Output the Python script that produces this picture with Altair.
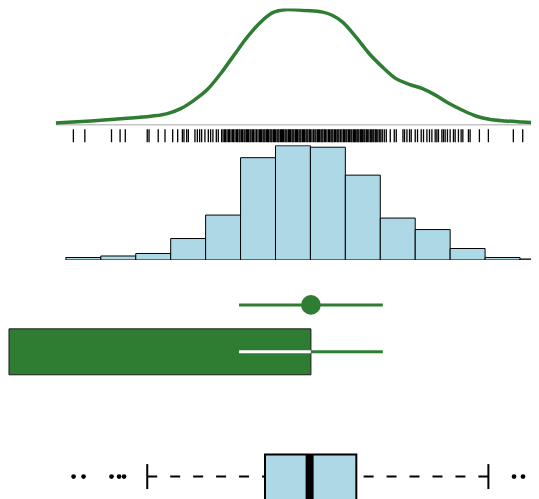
import altair as alt
import pandas as pd

GREEN = "#2e7d32"
BLUE = "#add8e6"

# ---- data (x in data units) ----
dens_x = [4.7, 8.2, 11.53, 14.2, 15.87, 17.2, 18.53, 19.87, 21.2, 22.53, 23.87, 25.2,
          26.53, 27.87, 29.77, 31.43, 32.43, 33.43, 34.77, 36.1, 37.43, 38.77, 40.1,
          41.43, 42.77, 44.1, 45.43, 46.77, 48.1, 49.77, 51.43, 53.1]
dens_y = [0.016, 0.033, 0.054, 0.074, 0.097, 0.140, 0.212, 0.305, 0.443, 0.602, 0.760,
          0.890, 0.977, 1.0, 0.991, 0.977, 0.948, 0.890, 0.760, 0.616, 0.500, 0.400,
          0.351, 0.313, 0.255, 0.184, 0.126, 0.076, 0.048, 0.033, 0.024, 0.016]

rug = [6.45, 7.6, 10.27, 11.13, 11.65, 13.85, 14.03, 14.95, 15.63, 16.4, 16.9, 17.37,
       17.53, 17.8, 17.97, 18.63, 18.87, 19.1, 19.3, 19.63, 19.97, 20.2, 20.43, 20.77,
       20.97,
       21.3, 21.45, 21.6, 21.7, 21.85, 22.0, 22.1, 22.25, 22.4, 22.5, 22.65, 22.8, 22.9,
       23.05, 23.15, 23.3, 23.4, 23.55, 23.65, 23.8, 23.9, 24.0, 24.15, 24.25, 24.4,
       24.5, 24.65, 24.8, 24.95, 25.1, 25.2, 25.3, 25.45, 25.55, 25.65, 25.8, 25.9, 26.0,
       26.15, 26.25, 26.35, 26.5, 26.6, 26.7, 26.85, 26.95, 27.05, 27.2, 27.3, 27.4,
       27.5, 27.65, 27.75, 27.85, 28.0, 28.1, 28.2, 28.35, 28.45, 28.55, 28.7, 28.8,
       28.9, 29.05, 29.15, 29.25, 29.4, 29.5, 29.6, 29.75, 29.85, 29.95, 30.1, 30.2,
       30.35, 30.5, 30.65, 30.75, 30.9, 31.0, 31.1, 31.25, 31.35, 31.45, 31.6, 31.7,
       31.85, 32.0, 32.1, 32.25, 32.35, 32.45, 32.6, 32.7, 32.85, 32.95, 33.05, 33.2,
       33.35, 33.5, 33.6, 33.75, 33.85, 34.0, 34.1, 34.25, 34.35, 34.5, 34.6, 34.7,
       34.85, 34.95, 35.05, 35.2, 35.3, 35.4, 35.55, 35.65, 35.8, 35.9, 36.05, 36.2,
       36.3, 36.45, 36.55, 36.7, 36.8, 36.95, 37.1, 37.25, 37.4,
       37.6, 37.8, 38.2, 38.6, 38.8, 39.47, 39.63, 39.87, 40.13, 40.3, 40.7, 40.93,
       41.3, 41.53, 41.87, 42.13, 42.37, 42.7, 42.87, 43.03, 43.37, 43.53, 43.7, 43.93,
       44.2, 44.53, 44.7, 45.03, 45.3, 45.47, 46.03, 46.2, 47.13, 48.03, 50.53, 51.47]

bin_edges = [5.7, 9.2, 12.7, 16.2, 19.7, 23.2, 26.7, 30.2, 33.7, 37.2, 40.7, 44.2,
             47.7, 51.2, 54.7]
bin_counts = [5, 8, 13, 43, 90, 205, 229, 226, 170, 84, 61, 23, 5, 2]

mean_val = 30.25
err_lo = 23.05
err_hi = 37.45

box_whisk_lo = 13.85
box_q1 = 25.65
box_median = 30.12
box_q3 = 34.8
box_whisk_hi = 48.03
outliers = [6.47, 7.47, 10.27, 11.03, 11.53, 50.6, 51.5]

# ---- tables ----
W = 523
XS = alt.Scale(domain=[0, 52.3], nice=False, zero=False)

df_dens = pd.DataFrame({"x": dens_x, "d": dens_y})
df_base = pd.DataFrame({"x": [min(dens_x)], "x2": [max(dens_x)], "d": [0]})
df_rug = pd.DataFrame({"x": rug})
df_hist = pd.DataFrame({"start": bin_edges[:-1], "end": bin_edges[1:], "count": bin_counts})
df_mean = pd.DataFrame({"mean": [mean_val], "lo": [err_lo], "hi": [err_hi], "zero": [0]})
df_box = pd.DataFrame({"wlo": [box_whisk_lo], "q1": [box_q1], "med": [box_median],
                       "q3": [box_q3], "whi": [box_whisk_hi]})
df_out = pd.DataFrame({"x": outliers})

# ---- panel A: density ----
ys_d = alt.Scale(domain=[-0.013, 1.009], nice=False, zero=False)
base = alt.Chart(df_base).mark_rule(color="#c4c4c4", strokeWidth=1.5, clip=True).encode(
    x=alt.X("x:Q", scale=XS, axis=None), x2="x2:Q",
    y=alt.Y("d:Q", scale=ys_d, axis=None))
dens = alt.Chart(df_dens).mark_line(color=GREEN, strokeWidth=3.5, interpolate="monotone",
                                    clip=True).encode(
    x=alt.X("x:Q", scale=XS, axis=None),
    y=alt.Y("d:Q", scale=ys_d, axis=None))
panelA = alt.layer(base, dens).properties(width=W, height=118)

# ---- panel B: rug ----
panelB = alt.Chart(df_rug).mark_tick(color="black", thickness=1.3, size=13, opacity=1).encode(
    x=alt.X("x:Q", scale=XS, axis=None),
    y=alt.Y(datum=0, scale=alt.Scale(domain=[-1, 1]), axis=None)
).properties(width=W, height=19)

# ---- panel C: histogram ----
panelC = alt.Chart(df_hist).mark_bar(fill=BLUE, stroke="black", strokeWidth=1, clip=True).encode(
    x=alt.X("start:Q", scale=XS, axis=None), x2="end:Q",
    y=alt.Y("count:Q", scale=alt.Scale(domain=[0, 230], nice=False), axis=None),
    y2=alt.Y2(datum=0)
).properties(width=W, height=115)

# ---- panel D: mean point with error bar ----
ys_D = alt.Scale(domain=[-23, 45], nice=False, zero=False)
d_rule = alt.Chart(df_mean).mark_rule(color=GREEN, strokeWidth=3).encode(
    x=alt.X("lo:Q", scale=XS, axis=None), x2="hi:Q",
    y=alt.Y(datum=0, scale=ys_D, axis=None))
d_pt = alt.Chart(df_mean).mark_point(filled=True, color=GREEN, size=390, opacity=1).encode(
    x=alt.X("mean:Q", scale=XS, axis=None),
    y=alt.Y(datum=0, scale=ys_D, axis=None))
panelD = alt.layer(d_rule, d_pt).properties(width=W, height=68)

# ---- panel E: bar with error bar ----
ys_E = alt.Scale(domain=[-1, 1], nice=False, zero=False)
e_bar = alt.Chart(df_mean).mark_bar(color=GREEN, stroke="#1a1a1a", strokeWidth=1).encode(
    x=alt.X("zero:Q", scale=XS, axis=None), x2="mean:Q",
    y=alt.Y(datum=-1, scale=ys_E, axis=None), y2=alt.Y2(datum=1))
e_w = alt.Chart(df_mean).mark_rule(color="white", strokeWidth=3).encode(
    x=alt.X("lo:Q", scale=XS, axis=None), x2="mean:Q",
    y=alt.Y(datum=0, scale=ys_E, axis=None))
e_g = alt.Chart(df_mean).mark_rule(color=GREEN, strokeWidth=3).encode(
    x=alt.X("mean:Q", scale=XS, axis=None), x2="hi:Q",
    y=alt.Y(datum=0, scale=ys_E, axis=None))
panelE = alt.layer(e_bar, e_w, e_g).properties(width=W, height=46)

# ---- panel F: box plot ----
ys_F = alt.Scale(domain=[-24, 101], nice=False, zero=False)
f_wl = alt.Chart(df_box).mark_rule(color="black", strokeWidth=2, strokeDash=[10, 13]).encode(
    x=alt.X("wlo:Q", scale=XS, axis=None), x2="q1:Q",
    y=alt.Y(datum=0, scale=ys_F, axis=None))
f_wh = alt.Chart(df_box).mark_rule(color="black", strokeWidth=2, strokeDash=[10, 13]).encode(
    x=alt.X("whi:Q", scale=XS, axis=None), x2="q3:Q",
    y=alt.Y(datum=0, scale=ys_F, axis=None))
f_cl = alt.Chart(df_box).mark_rule(color="black", strokeWidth=2).encode(
    x=alt.X("wlo:Q", scale=XS, axis=None),
    y=alt.Y(datum=-12.5, scale=ys_F, axis=None), y2=alt.Y2(datum=12.5))
f_ch = alt.Chart(df_box).mark_rule(color="black", strokeWidth=2).encode(
    x=alt.X("whi:Q", scale=XS, axis=None),
    y=alt.Y(datum=-12.5, scale=ys_F, axis=None), y2=alt.Y2(datum=12.5))
f_box = alt.Chart(df_box).mark_bar(fill=BLUE, stroke="black", strokeWidth=2, clip=True).encode(
    x=alt.X("q1:Q", scale=XS, axis=None), x2="q3:Q",
    y=alt.Y(datum=-28, scale=ys_F, axis=None), y2=alt.Y2(datum=22))
f_med = alt.Chart(df_box).mark_rule(color="black", strokeWidth=8, clip=True).encode(
    x=alt.X("med:Q", scale=XS, axis=None),
    y=alt.Y(datum=-28, scale=ys_F, axis=None), y2=alt.Y2(datum=22))
f_out = alt.Chart(df_out).mark_circle(color="black", size=22, opacity=1, clip=True).encode(
    x=alt.X("x:Q", scale=XS, axis=None),
    y=alt.Y(datum=0, scale=ys_F, axis=None))
panelF = alt.layer(f_wl, f_wh, f_cl, f_ch, f_box, f_med, f_out).properties(width=W, height=125)

chart = alt.vconcat(panelA, panelB, panelC, panelD, panelE, panelF, spacing=0).properties(
    padding=0
).configure_view(stroke=None)

chart.save("out.html", embed_options={"renderer": "svg", "actions": False})
